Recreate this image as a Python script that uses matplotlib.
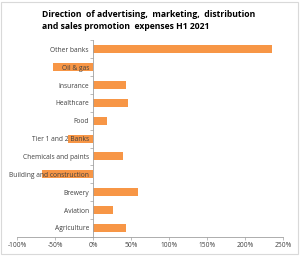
import numpy as np
import matplotlib.pyplot as plt
from matplotlib.patches import Rectangle

categories = ["Other banks", "Oil & gas", "Insurance", "Healthcare", "Food",
              "Tier 1 and 2 Banks", "Chemicals and paints",
              "Building and construction", "Brewery", "Aviation", "Agriculture"]
change = [235, -53, 44, 46, 19, -33, 40, -67, 59, 26, 44]
xticks = [-100, -50, 0, 50, 100, 150, 200, 250]

plt.rcParams['font.family'] = ['Open Sans', 'DejaVu Sans']

fig = plt.figure(figsize=(3.0, 2.56), dpi=100)
ax = fig.add_axes([0.057, 0.075, 0.886, 0.767])

# move y axis to zero first (this resets tick settings)
ax.spines['left'].set_position(('data', 0))
ax.spines['left'].set_color('#A0A0A0')
ax.spines['left'].set_linewidth(0.6)
ax.spines['bottom'].set_color('#A0A0A0')
ax.spines['bottom'].set_linewidth(0.6)
ax.spines['top'].set_visible(False)
ax.spines['right'].set_visible(False)

y = np.arange(len(categories))
ax.barh(y, change, height=0.45, color='#F79646', zorder=1)
ax.set_ylim(len(categories) - 0.5, -0.5)
ax.set_xlim(-100, 250)

ax.set_xticks(xticks)
ax.set_xticklabels([f"{t}%" for t in xticks], fontsize=4.8, color='#404040')
ax.tick_params(axis='x', length=2, width=0.5, color='#A0A0A0', pad=2)

ax.set_yticks(y)
ax.set_yticklabels(categories, fontsize=4.8, color='#404040')
ax.set_yticks(np.arange(len(categories) + 1) - 0.5, minor=True)
ax.tick_params(axis='y', which='major', length=0, pad=3)
ax.tick_params(axis='y', which='minor', length=2, width=0.5, color='#A0A0A0')
for lab in ax.get_yticklabels():
    lab.set_zorder(3)

fig.text(0.497, 0.96, "Direction  of advertising,  marketing,  distribution\nand sales promotion  expenses H1 2021",
         ha='center', va='top', fontsize=6.2, fontweight='bold', linespacing=1.35,
         multialignment='left')

fig.patches.append(Rectangle((0.004, 0.008), 0.99, 0.985, transform=fig.transFigure,
                             fill=False, edgecolor='#D9D9D9', linewidth=0.8))

fig.savefig("out.png", dpi=100)
